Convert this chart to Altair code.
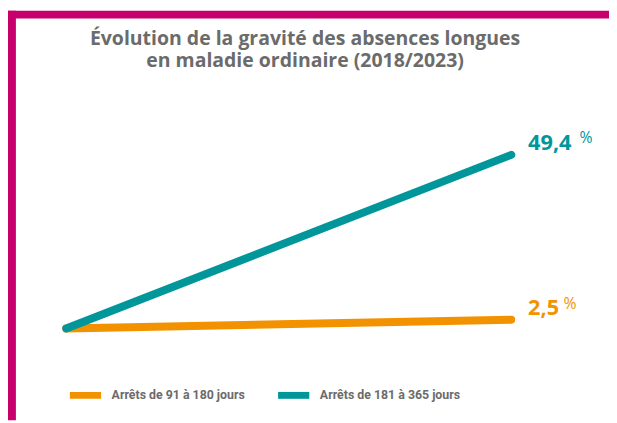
import altair as alt
import pandas as pd

years = [2018, 2023]
series_names = ["Arrêts de 91 à 180 jours", "Arrêts de 181 à 365 jours"]
values_91_180 = [0.0, 2.5]
values_181_365 = [0.0, 49.4]
colors = ["#F39200", "#00969A"]
title_lines = ["Évolution de la gravité des absences longues", "en maladie ordinaire (2018/2023)"]

rows = []
for y, v in zip(years, values_91_180):
    rows.append({"year": y, "value": v, "series": series_names[0]})
for y, v in zip(years, values_181_365):
    rows.append({"year": y, "value": v, "series": series_names[1]})
df = pd.DataFrame(rows)

W, H = 609, 415
MAGENTA = "#C8006E"
GRAY = "#6B6B6B"

xsc = alt.Scale(domain=[2018, 2023], range=[59, 510], nice=False, zero=False)
ysc = alt.Scale(domain=[0, 49.4], range=[322, 146], nice=False)
csc = alt.Scale(domain=series_names, range=colors)

one = alt.Data(values=[{}])

left_stripe = alt.Chart(one).mark_rect(color=MAGENTA).encode(
    x=alt.value(0), x2=alt.value(8), y=alt.value(0), y2=alt.value(H))
top_stripe = alt.Chart(one).mark_rect(color=MAGENTA).encode(
    x=alt.value(0), x2=alt.value(W), y=alt.value(0), y2=alt.value(8))

title = alt.Chart(one).mark_text(text=title_lines, font="Open Sans", fontWeight="bold",
                                 fontSize=19.7, lineHeight=22.5, color=GRAY, align="center",
                                 baseline="alphabetic").encode(
    x=alt.value(301), y=alt.value(35))

base = alt.Chart(df)

lines = base.mark_line(strokeWidth=8, strokeCap="round").encode(
    x=alt.X("year:Q", scale=xsc, axis=None),
    y=alt.Y("value:Q", scale=ysc, axis=None),
    color=alt.Color("series:N", scale=csc, sort=series_names,
                    legend=alt.Legend(title=None, orient="none", direction="horizontal",
                                      legendX=59, legendY=370,
                                      symbolType="stroke", symbolStrokeWidth=7,
                                      symbolSize=1000, labelOffset=7, columnPadding=18,
                                      labelFont="Roboto", labelFontWeight="bold",
                                      labelFontSize=12.5, labelColor=GRAY, labelLimit=400)),
    order=alt.Order("series:N", sort="ascending"),
)

end = base.transform_filter(alt.datum.year == 2023).transform_calculate(
    lab="replace(format(datum.value, '.1f'), '.', ',')")

labels = end.mark_text(font="Open Sans", fontWeight="bold", fontSize=22, align="left",
                       baseline="alphabetic", dx=17, dy=-5).encode(
    x=alt.X("year:Q", scale=xsc), y=alt.Y("value:Q", scale=ysc),
    text="lab:N", color=alt.Color("series:N", scale=csc, legend=None))

pct_hi = end.transform_filter(alt.datum.series == series_names[1]).mark_text(
    text="%", font="Open Sans", fontSize=16, align="left", baseline="alphabetic",
    dx=69, dy=-12).encode(
    x=alt.X("year:Q", scale=xsc), y=alt.Y("value:Q", scale=ysc),
    color=alt.Color("series:N", scale=csc, legend=None))
pct_lo = end.transform_filter(alt.datum.series == series_names[0]).mark_text(
    text="%", font="Open Sans", fontSize=16, align="left", baseline="alphabetic",
    dx=53, dy=-11).encode(
    x=alt.X("year:Q", scale=xsc), y=alt.Y("value:Q", scale=ysc),
    color=alt.Color("series:N", scale=csc, legend=None))

chart = alt.layer(left_stripe, top_stripe, title, lines, labels, pct_hi, pct_lo).properties(
    width=W, height=H, autosize=alt.AutoSizeParams(type="none"), padding=0,
    background="white"
).configure_view(stroke=None)

chart.save("out.html", embed_options={"renderer": "svg", "actions": False})
